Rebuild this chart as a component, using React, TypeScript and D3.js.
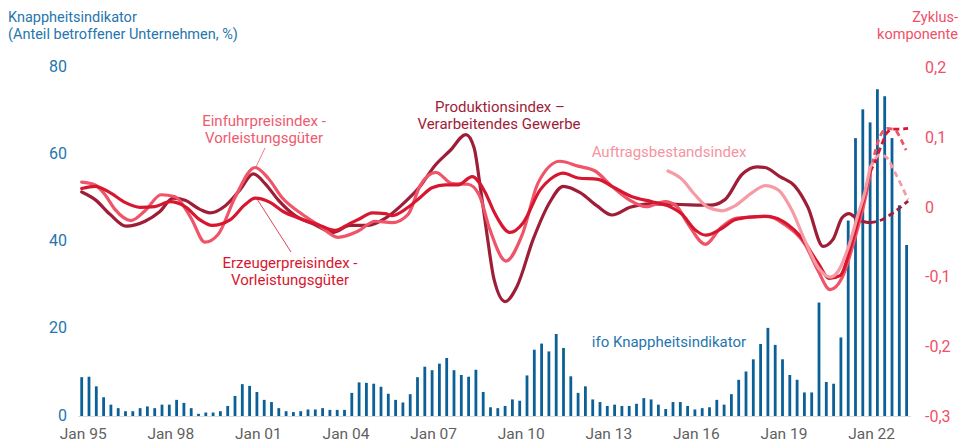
import React from 'react';
import * as d3 from 'd3';

// ifo shortage indicator, quarterly from Q1 1995 (share of firms, %)
const shortageStart = 1995;
const shortage = [
  8.9, 9.0, 6.8, 4.3, 2.6, 1.8, 1.1, 1.1, 1.8, 2.2, 1.8, 2.6, 2.6, 3.7, 3.0, 1.8,
  0.5, 0.8, 0.8, 1.1, 2.3, 4.6, 7.3, 6.9, 5.5, 3.7, 3.2, 1.8, 1.1, 0.9, 1.1, 1.5,
  1.5, 1.8, 1.4, 1.4, 1.4, 5.3, 7.7, 7.6, 7.4, 6.7, 5.1, 3.7, 3.1, 5.0, 8.9, 11.3,
  10.5, 12.0, 13.3, 10.5, 9.4, 9.0, 10.6, 5.5, 2.0, 1.8, 2.3, 3.8, 3.5, 9.3,
  15.2, 16.6, 14.8, 18.8, 15.6, 9.1, 5.3, 6.8, 3.8, 3.2, 2.3, 2.6, 2.3, 2.3,
  2.8, 4.1, 3.8, 2.6, 1.6, 3.2, 3.2, 2.3, 1.5, 1.8, 2.0, 3.7, 2.6, 5.0, 8.3,
  10.2, 13.0, 16.5, 20.2, 16.3, 13.0, 9.4, 8.3, 5.4, 5.4, 26.0, 7.8, 7.4, 18.0,
  44.8, 63.7, 70.3, 67.3, 74.9, 73.3, 63.7, 48.3, 39.2,
];

// cyclical components [year, value]
const produktion: [number, number][] = [
  [1995.0, 0.021], [1995.46, 0.01], [1995.97, -0.011], [1996.52, -0.028], [1997.17, -0.021],
  [1997.68, -0.007], [1998.13, 0.012], [1998.54, 0.009], [1999.05, -0.004], [1999.39, -0.009],
  [1999.91, 0.001], [2000.42, 0.024], [2000.87, 0.047], [2001.28, 0.033], [2001.72, 0.01],
  [2002.31, -0.013], [2002.99, -0.026], [2003.61, -0.037], [2004.19, -0.027], [2004.8, -0.027],
  [2005.39, -0.017], [2005.9, 0.0], [2006.59, 0.029], [2007.1, 0.059], [2007.61, 0.08],
  [2008.16, 0.103], [2008.44, 0.084], [2008.64, 0.031], [2008.88, -0.04], [2009.12, -0.104],
  [2009.5, -0.136], [2009.91, -0.114], [2010.46, -0.047], [2011.04, 0.007], [2011.49, 0.029],
  [2012.07, 0.02], [2012.65, 0.001], [2013.16, -0.012], [2013.78, -0.001], [2014.46, 0.004],
  [2015.49, 0.003], [2016.52, 0.002], [2017.03, 0.01], [2017.61, 0.046], [2018.13, 0.057],
  [2018.4, 0.056], [2018.91, 0.043], [2019.43, 0.029], [2019.87, -0.001], [2020.39, -0.057],
  [2020.73, -0.047], [2021.04, -0.016], [2021.28, -0.01], [2021.59, -0.019], [2022.0, -0.023],
  [2022.34, -0.02], [2022.85, -0.007], [2023.3, 0.008],
];

const erzeuger: [number, number][] = [
  [1995.0, 0.026], [1995.46, 0.029], [1995.97, 0.02], [1996.48, 0.006], [1997.0, -0.001],
  [1997.51, 0.0], [1998.02, 0.007], [1998.54, 0.0], [1999.05, -0.019], [1999.46, -0.027],
  [2000.08, -0.019], [2000.6, 0.003], [2000.94, 0.012], [2001.45, 0.006], [2001.9, -0.007],
  [2002.48, -0.017], [2003.1, -0.026], [2003.68, -0.034], [2004.19, -0.024], [2004.54, -0.017],
  [2004.95, -0.009], [2005.39, -0.01], [2005.63, -0.013], [2006.18, -0.001], [2006.59, 0.013],
  [2007.0, 0.027], [2007.45, 0.031], [2007.89, 0.031], [2008.37, 0.043], [2008.81, 0.021],
  [2009.15, -0.01], [2009.67, -0.037], [2010.12, -0.023], [2010.7, 0.024], [2011.04, 0.039],
  [2011.49, 0.048], [2012.0, 0.041], [2012.69, 0.039], [2013.16, 0.029], [2013.85, 0.014],
  [2014.53, 0.007], [2015.08, 0.001], [2015.56, -0.011], [2016.0, -0.033], [2016.38, -0.041],
  [2016.93, -0.031], [2017.37, -0.019], [2017.89, -0.015], [2018.4, -0.014], [2018.74, -0.016],
  [2019.19, -0.026], [2019.6, -0.042], [2020.22, -0.081], [2020.6, -0.103], [2020.97, -0.099],
  [2021.38, -0.051], [2021.72, 0.001], [2022.0, 0.05],
  [2022.2, 0.067], [2022.38, 0.087], [2022.58, 0.106], [2022.79, 0.111], [2023.03, 0.111], [2023.3, 0.112],
];

const einfuhr: [number, number][] = [
  [1995.0, 0.035], [1995.46, 0.031], [1995.8, 0.017], [1996.14, -0.004], [1996.69, -0.02],
  [1997.17, -0.006], [1997.72, 0.017], [1998.2, 0.014], [1998.74, -0.016], [1999.22, -0.051],
  [1999.67, -0.04], [2000.25, 0.013], [2000.94, 0.056], [2001.38, 0.041], [2001.86, 0.013],
  [2002.55, -0.011], [2003.1, -0.026], [2003.78, -0.044], [2004.47, -0.035], [2005.05, -0.021],
  [2005.63, -0.023], [2006.18, -0.011], [2006.59, 0.03], [2007.13, 0.049], [2007.68, 0.033],
  [2008.23, 0.032], [2008.61, 0.017], [2008.98, -0.033], [2009.53, -0.078], [2010.08, -0.041],
  [2010.63, 0.034], [2011.38, 0.065], [2012.0, 0.058], [2012.58, 0.051], [2013.16, 0.029],
  [2013.78, 0.009], [2014.33, 0.0], [2014.98, 0.007], [2015.36, 0.001], [2015.78, -0.026],
  [2016.36, -0.054], [2016.87, -0.031], [2017.37, -0.017], [2017.89, -0.015], [2018.5, -0.014],
  [2019.08, -0.026], [2019.77, -0.054], [2020.22, -0.092], [2020.63, -0.119], [2021.04, -0.102],
  [2021.49, -0.044], [2021.83, 0.011], [2022.0, 0.046],
  [2022.27, 0.093], [2022.58, 0.112], [2022.85, 0.11], [2023.06, 0.096], [2023.23, 0.081],
];

const auftrag: [number, number][] = [
  [2015.08, 0.051], [2015.56, 0.039], [2016.0, 0.017], [2016.45, -0.001], [2016.93, -0.006],
  [2017.37, 0.001], [2017.96, 0.02], [2018.4, 0.03], [2018.85, 0.024], [2019.33, -0.006],
  [2019.77, -0.049], [2020.22, -0.087], [2020.63, -0.101], [2020.9, -0.093], [2021.25, -0.059],
  [2021.59, -0.011], [2021.83, 0.022], [2022.0, 0.056],
  [2022.34, 0.074], [2022.55, 0.071], [2022.85, 0.049], [2023.3, 0.01],
];

// forecast part drawn dashed from here on
const dashFrom = 2022.0;

const leftTicks = [0, 20, 40, 60, 80];
const rightTicks = [-0.3, -0.2, -0.1, 0, 0.1, 0.2];
const xTicks = [1995, 1998, 2001, 2004, 2007, 2010, 2013, 2016, 2019, 2022];

const BLUE = '#0b6197';
const BLUE_TXT = '#2676ad';
const PINK_AX = '#f0506a';
const FONT = 'Roboto, sans-serif';

const series = [
  { data: produktion, color: '#9e1d37' },
  { data: einfuhr, color: '#ef5468' },
  { data: erzeuger, color: '#d7172f' },
  { data: auftrag, color: '#f59ba6' },
];

export default function App() {
  const width = 967;
  const height = 442;

  const x = d3.scaleLinear().domain([1995, 2023.25]).range([81.7, 906.6]);
  const yL = d3.scaleLinear().domain([0, 80]).range([416, 67]);
  const yR = d3.scaleLinear().domain([-0.3, 0.2]).range([416, 67]);

  const line = d3.line<[number, number]>()
    .x(d => x(d[0]))
    .y(d => yR(d[1]))
    .curve(d3.curveMonotoneX);

  const fmtR = (v: number) => (v === 0 ? '0' : d3.format('.1f')(v).replace('.', ',').replace('−', '-'));

  return (
    <svg width={width} height={height} style={{ position: 'absolute', left: 0, top: 0 }} fontFamily={FONT}>
      {/* axis titles */}
      <text x={8} y={22} fontSize={14.5} fill={BLUE_TXT}>Knappheitsindikator</text>
      <text x={8} y={39} fontSize={14.5} fill={BLUE_TXT}>(Anteil betroffener Unternehmen, %)</text>
      <text x={958} y={22} fontSize={14.5} fill={PINK_AX} textAnchor="end">Zyklus-</text>
      <text x={958} y={39} fontSize={14.5} fill={PINK_AX} textAnchor="end">komponente</text>

      {/* left ticks */}
      {leftTicks.map(t => (
        <text key={t} x={67} y={yL(t) - 1} dy="0.35em" fontSize={16} fill={BLUE_TXT} textAnchor="end">{t}</text>
      ))}
      {/* right ticks */}
      {rightTicks.map(t => (
        <text key={t} x={925} y={yR(t)} dy="0.38em" fontSize={16} fill={PINK_AX}>{fmtR(t)}</text>
      ))}
      {/* x ticks */}
      {xTicks.map(t => (
        <text key={t} x={x(t) + 1.5} y={438.5} fontSize={15.5} fill="#5f5f5f" textAnchor="middle">
          {'Jan ' + String(t).slice(2)}
        </text>
      ))}

      <line x1={78} x2={911} y1={416.5} y2={416.5} stroke="#dcdcdc" strokeWidth={1} />

      {/* bars */}
      {shortage.map((v, i) => (
        <rect key={i} x={x(shortageStart + i / 4) - 1.4} y={yL(v)} width={2.8} height={416 - yL(v)} fill={BLUE} />
      ))}

      {/* cyclical components */}
      {series.map((s, i) => (
        <g key={i}>
          <path d={line(s.data.filter(d => d[0] <= dashFrom)) || ''} fill="none" stroke={s.color} strokeWidth={3.2} strokeLinejoin="round" strokeLinecap="round" />
          <path d={line(s.data.filter(d => d[0] >= dashFrom)) || ''} fill="none" stroke={s.color} strokeWidth={2.8} strokeDasharray="6,4" />
        </g>
      ))}

      {/* series labels */}
      <text x={264} y={126} fontSize={15} fill="#ef5a6e" textAnchor="middle">Einfuhrpreisindex -</text>
      <text x={264} y={143} fontSize={15} fill="#ef5a6e" textAnchor="middle">Vorleistungsgüter</text>
      <line x1={265} y1={148} x2={255} y2={169} stroke="#ef5a6e" strokeWidth={0.8} />

      <text x={290} y={267.5} fontSize={15} fill="#d7172f" textAnchor="middle">Erzeugerpreisindex -</text>
      <text x={290} y={285} fontSize={15} fill="#d7172f" textAnchor="middle">Vorleistungsgüter</text>
      <line x1={257} y1={199} x2={291} y2={252} stroke="#d7172f" strokeWidth={0.8} />

      <text x={500} y={111.5} fontSize={15} fill="#9e1d37" textAnchor="middle">Produktionsindex –</text>
      <text x={499} y={129} fontSize={15} fill="#9e1d37" textAnchor="middle">Verarbeitendes Gewerbe</text>

      <text x={669} y={157.3} fontSize={15} fill="#f5949f" textAnchor="middle">Auftragsbestandsindex</text>

      <text x={669} y={347.3} fontSize={15} fill={BLUE_TXT} textAnchor="middle">ifo Knappheitsindikator</text>
    </svg>
  );
}
